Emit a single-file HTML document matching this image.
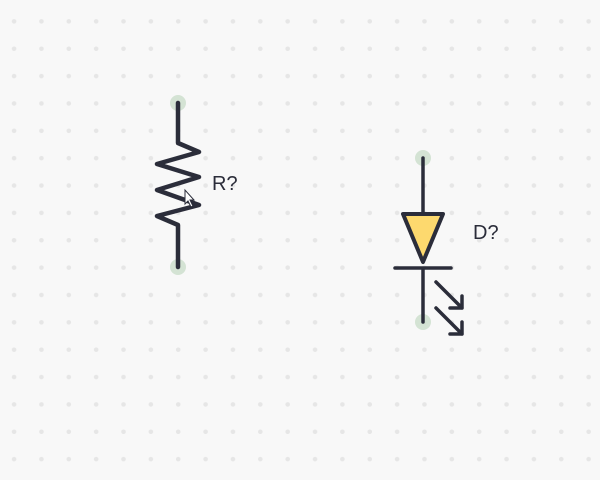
<!DOCTYPE html>
<html><head><meta charset="utf-8"><style>
html,body{margin:0;padding:0;background:#f8f8f8;}
svg{display:block}
</style></head><body>
<svg width="600" height="480" viewBox="0 0 600 480" xmlns="http://www.w3.org/2000/svg">
<defs>
<pattern id="g" x="0.4" y="7.7" width="27.36" height="27.36" patternUnits="userSpaceOnUse">
<circle cx="13.68" cy="13.68" r="2.3" fill="#e6e6e6"/>
</pattern>
</defs>
<rect width="600" height="480" fill="#f8f8f8"/>
<rect width="600" height="480" fill="url(#g)"/>
<g fill="#cfe0cf" opacity="0.9">
<circle cx="178" cy="103" r="8"/><circle cx="178" cy="267" r="8"/>
<circle cx="423" cy="158" r="8"/><circle cx="423" cy="322" r="8"/>
</g>
<g fill="none" stroke="#2b2d3a" stroke-width="4.5" stroke-linecap="round" stroke-linejoin="round">
<path d="M178 103 V143 L199 152 L157 164 L199 177 L157 190 L199 205 L157 216 L178 225 V267"/>
</g>
<g fill="none" stroke="#2b2d3a" stroke-linecap="round" stroke-linejoin="round">
<path d="M423 158 V212" stroke-width="3.5"/>
<path d="M403 214 L443 214 L423 262 Z" fill="#fdd96e" stroke-width="4"/>
<path d="M395 268 H451" stroke-width="3.5"/>
<path d="M423 270 V322" stroke-width="3.5"/>
<path d="M436 282 L462 308 M462 296 V308 H450" stroke-width="3.5"/>
<path d="M436 308 L462 334 M462 322 V334 H450" stroke-width="3.5"/>
</g>
<text x="212" y="190" font-family="Liberation Sans, sans-serif" font-size="20" fill="#2b2d3a">R?</text>
<text x="473" y="239" font-family="Liberation Sans, sans-serif" font-size="20" fill="#2b2d3a">D?</text>
<path d="M185 190 L185 204 L188 201 L191 207 L193 206 L190 200 L194 200 Z" fill="#fff" stroke="#2b2d3a" stroke-width="1"/>
</svg>
</body></html>
